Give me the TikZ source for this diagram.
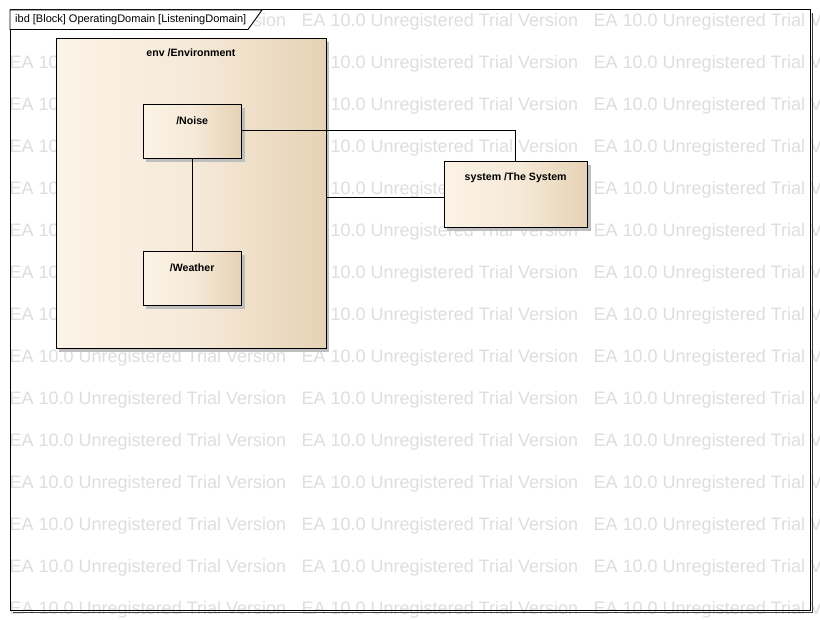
\documentclass[tikz,border=0pt]{standalone}
\usepackage{fontspec}
\setmainfont{Liberation Sans}
\usetikzlibrary{shadows}
\definecolor{wmgray}{HTML}{DEDEDE}
\definecolor{eaL}{HTML}{FBF3E6}
\definecolor{eaM}{HTML}{F6EAD9}
\definecolor{eaR}{HTML}{E6D2B5}
\definecolor{shd}{HTML}{BEBEBE}
\pgfdeclarehorizontalshading{eagrad}{100bp}{color(0bp)=(eaL); color(25bp)=(eaL); color(50bp)=(eaM); color(75bp)=(eaR); color(100bp)=(eaR)}
\tikzset{
  block/.style={draw=black, line width=0.9bp, shading=eagrad, inner sep=0pt, anchor=north west,
    drop shadow={shadow xshift=3.5bp, shadow yshift=-3.5bp, fill=shd, opacity=1}},
  ttl/.style={font=\fontsize{10.6bp}{12bp}\selectfont\bfseries, inner sep=0pt, anchor=base},
  conn/.style={draw=black, line width=0.8bp},
  wmtext/.style={text=wmgray, font=\fontsize{18bp}{20bp}\selectfont, inner sep=0pt, anchor=base west},
  hdr/.style={font=\fontsize{11bp}{13bp}\selectfont, inner sep=0pt, anchor=base west},
}
\begin{document}
\begin{tikzpicture}[x=1bp, y=-1bp]
\path[use as bounding box, fill=white] (0,0) rectangle (820,620);
\begin{scope}
  \clip (0,0) rectangle (820,620);
  \foreach \r in {0,...,14} {
    \foreach \c in {0,1,2} {
      \node[wmtext] (wm-\r-\c) at (9.5+292*\c, 26.5+42*\r) {EA 10.0 Unregistered Trial Version};
    }
  }
\end{scope}
% frame
\draw[line width=1bp, draw=black!75] (13,612) -- (812,612) -- (812,13);
\draw[line width=1bp] (10,10) rectangle (810,610);
\filldraw[fill=white, draw=black, line width=0.9bp] (10,10) -- (262,10) -- (248,29.5) -- (10,29.5) -- cycle;
\node[hdr] (title) at (15,23) {ibd [Block] OperatingDomain [ListeningDomain]};
% blocks
\node[block, minimum width=270bp, minimum height=310bp] (env) at (55.5,38) {};
\node[block, minimum width=98.5bp, minimum height=53.5bp] (noise) at (142.5,104.5) {};
\node[block, minimum width=98.5bp, minimum height=54bp] (weather) at (142.5,251) {};
\node[block, minimum width=143.5bp, minimum height=65.5bp] (system) at (443.5,161.5) {};
% titles
\node[ttl] (envt) at ([yshift=-19bp]env.north) {env /Environment};
\node[ttl] (noiset) at ([yshift=-20bp]noise.north) {/Noise};
\node[ttl] (weathert) at ([yshift=-20.5bp]weather.north) {/Weather};
\node[ttl] (systemt) at ([yshift=-19.5bp]system.north) {system /The System};
% connectors
\draw[conn] ([yshift=1.5bp]noise.east) -| (system.north);
\draw[conn] (noise.south) -- (weather.north);
\draw[conn] ([yshift=-2.5bp]system.west) -- ([yshift=-2.5bp]system.west -| env.east);
\end{tikzpicture}
\end{document}
